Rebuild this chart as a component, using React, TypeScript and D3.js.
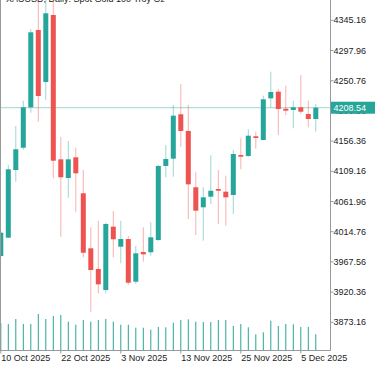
import React from "react";
import * as d3 from "d3";

const opens = [3976.8, 4005.4, 4111.2, 4146.0, 4209.2, 4330.0, 4248.7, 4353.5, 4127.9, 4098.7, 4131.0, 4074.8, 3988.8, 3956.5, 3923.6, 4022.6, 3991.3, 4003.3, 3936.6, 3983.0, 3982.6, 4001.8, 4117.5, 4128.9, 4198.3, 4172.2, 4084.2, 4052.9, 4069.5, 4081.5, 4077.3, 4072.1, 4134.6, 4133.1, 4163.9, 4158.1, 4223.2, 4233.6, 4207.0, 4205.0, 4209.2, 4198.7, 4190.9];
const highs = [4016.0, 4119.0, 4180.0, 4219.5, 4331.1, 4381.0, 4381.5, 4378.0, 4162.8, 4156.5, 4146.1, 4111.2, 4021.6, 4031.9, 4028.8, 4047.1, 4031.9, 4008.0, 3992.4, 4021.6, 4029.5, 4119.0, 4150.3, 4212.8, 4245.6, 4212.8, 4107.6, 4084.2, 4134.2, 4111.2, 4102.3, 4142.5, 4160.7, 4174.8, 4171.1, 4227.3, 4264.8, 4237.3, 4243.0, 4219.5, 4259.7, 4219.5, 4214.4];
const lows = [3974.0, 4004.9, 4092.9, 4142.9, 4200.8, 4186.7, 4220.6, 4098.2, 4006.9, 4067.9, 4046.0, 3974.7, 3889.7, 3918.5, 3918.5, 3974.7, 3965.4, 3931.4, 3933.0, 3967.9, 3977.3, 4000.2, 4099.8, 4100.7, 4147.6, 4034.6, 4009.6, 4000.7, 4058.0, 4026.8, 4024.2, 4042.4, 4112.3, 4131.5, 4144.5, 4157.3, 4209.2, 4165.9, 4196.7, 4176.4, 4198.7, 4177.9, 4171.1];
const closes = [4013.2, 4112.3, 4143.6, 4209.2, 4326.4, 4226.8, 4356.1, 4125.7, 4099.8, 4127.9, 4106.0, 3981.9, 3954.9, 3932.5, 4026.8, 4002.9, 4003.3, 3935.0, 3981.0, 3979.4, 4006.0, 4117.5, 4128.4, 4196.1, 4172.2, 4088.8, 4047.6, 4068.5, 4078.8, 4078.8, 4068.5, 4136.2, 4132.0, 4164.8, 4161.2, 4221.7, 4233.1, 4206.5, 4203.9, 4209.2, 4202.3, 4190.9, 4208.54];
const volumes = [270000, 260000, 310000, 260000, 260000, 360000, 310000, 340000, 350000, 283000, 253000, 300000, 283000, 300000, 310000, 283000, 253000, 253000, 223000, 223000, 203000, 230000, 227000, 273000, 300000, 307000, 283000, 280000, 280000, 300000, 300000, 240000, 260000, 227000, 157000, 177000, 293000, 240000, 260000, 257000, 230000, 230000, 157000];

const priceTicks = [4345.16, 4297.96, 4250.76, 4203.56, 4156.36, 4109.16, 4061.96, 4014.76, 3967.56, 3920.36, 3873.16];
const dateLabels = ["10 Oct 2025", "22 Oct 2025", "3 Nov 2025", "13 Nov 2025", "25 Nov 2025", "5 Dec 2025"];
const dateLabelIndex = [0, 8, 16, 24, 32, 40];
const lastPrice = 4208.54;
const title = "XAUUSD, Daily:  Spot Gold 100 Troy Oz";

const UP = "#26a69a";
const DOWN = "#ef5350";

export default function App() {
  const W = 375, H = 366;
  const axisX = 330.5;
  const axisY = 350.5;
  const y = d3.scaleLinear().domain([3873.16, 4345.16]).range([322.3, 20.3]);
  const x = d3.scaleLinear().domain([0, 42]).range([0.8, 315.8]);
  const vy = d3.scaleLinear().domain([0, 1000000]).range([350, 250]);
  const font = "'Liberation Sans', Arial, sans-serif";
  const bodyW = 5;
  const py = y(lastPrice);

  return (
    <svg width={W} height={H} style={{ position: "absolute", left: 0, top: 0, background: "#fff" }}>
      <defs>
        <clipPath id="plot">
          <rect x={0} y={0} width={axisX} height={axisY} />
        </clipPath>
      </defs>
      <text x={6} y={1.5} fontFamily={font} fontSize={9} fill="#222">{title}</text>
      <g clipPath="url(#plot)">
        {volumes.map((v, i) => (
          <line key={"v" + i} x1={x(i)} x2={x(i)} y1={vy(0)} y2={vy(v)} stroke={UP} strokeWidth={1} />
        ))}
        <line x1={0} x2={axisX} y1={py} y2={py} stroke={UP} strokeOpacity={0.45} strokeWidth={1} />
        {opens.map((o, i) => {
          const c = closes[i];
          const up = c >= o;
          const col = up ? UP : DOWN;
          const top = y(Math.max(o, c));
          const bot = y(Math.min(o, c));
          return (
            <g key={"c" + i}>
              <line x1={x(i)} x2={x(i)} y1={y(highs[i])} y2={y(lows[i])} stroke={col} strokeOpacity={0.45} strokeWidth={1} />
              <rect x={x(i) - bodyW / 2} y={top} width={bodyW} height={Math.max(1.5, bot - top)} fill={col} />
            </g>
          );
        })}
      </g>
      <line x1={0.5} x2={0.5} y1={0} y2={axisY} stroke="#999" strokeWidth={1} />
      <line x1={axisX} x2={axisX} y1={0} y2={axisY} stroke="#999" strokeWidth={1} />
      <line x1={0} x2={axisX} y1={axisY} y2={axisY} stroke="#999" strokeWidth={1} />
      {priceTicks.map((t) => (
        <g key={"t" + t}>
          <line x1={axisX} x2={axisX + 3} y1={y(t)} y2={y(t)} stroke="#999" />
          <text x={333.5} y={y(t)} dy="0.35em" fontFamily={font} fontSize={9} fill="#222">{t.toFixed(2)}</text>
        </g>
      ))}
      <rect x={331} y={py - 6} width={44} height={12} fill={UP} />
      <text x={333.5} y={py} dy="0.35em" fontFamily={font} fontSize={9} fill="#fff">{lastPrice.toFixed(2)}</text>
      {dateLabels.map((d, k) => (
        <g key={"d" + k}>
          <line x1={x(dateLabelIndex[k])} x2={x(dateLabelIndex[k])} y1={axisY} y2={axisY + 3} stroke="#999" />
          <text x={x(dateLabelIndex[k]) + 0.5} y={361} fontFamily={font} fontSize={9} fill="#222">{d}</text>
        </g>
      ))}
    </svg>
  );
}
